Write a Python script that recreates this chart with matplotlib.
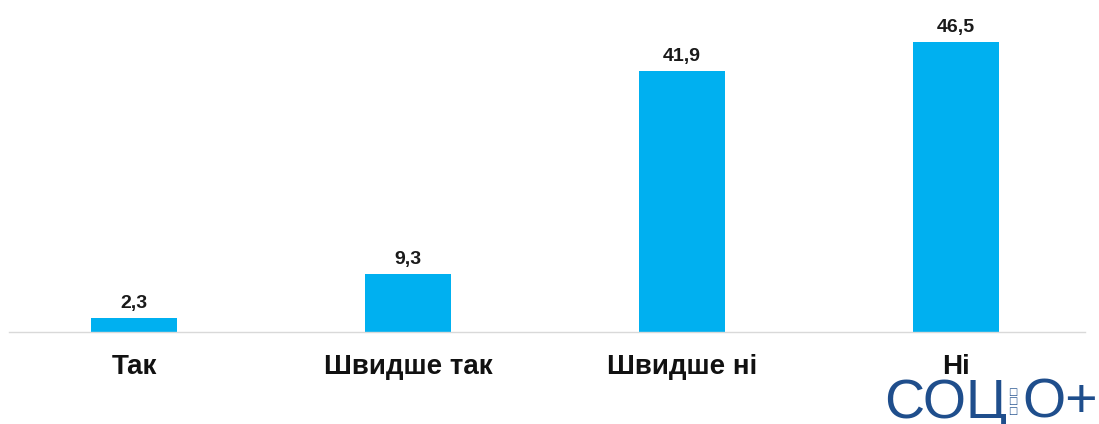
import matplotlib.pyplot as plt

categories = ["Так", "Швидше так", "Швидше ні", "Ні"]
values = [2.3, 9.3, 41.9, 46.5]
value_labels = ["2,3", "9,3", "41,9", "46,5"]

plt.rcParams['font.family'] = ['Liberation Sans', 'DejaVu Sans']

fig = plt.figure(figsize=(10.99, 4.24), dpi=100)
# axes placed so that category centres land at 134, 408, 682, 956 px
left_px, right_px = 9, 1085
ax = fig.add_axes([left_px / 1099, 92 / 424, (right_px - left_px) / 1099, (404 - 92) / 424])

x = range(len(categories))
ax.bar(x, values, width=86 / 274, color="#00B0F0")

for xi, v, lab in zip(x, values, value_labels):
    ax.text(xi, v + 0.9, lab, ha="center", va="bottom", fontsize=14, fontweight="bold", color="#1a1a1a")

ax.set_xlim((left_px - 134) / 274, (right_px - 134) / 274)
ax.set_ylim(0, 50)

for s in ["top", "right", "left"]:
    ax.spines[s].set_visible(False)
ax.spines["bottom"].set_color("#d9d9d9")
ax.spines["bottom"].set_linewidth(1)
ax.set_yticks([])
ax.set_xticks(list(x))
ax.set_xticklabels(categories, fontsize=20, fontweight="bold", color="#111111")
ax.tick_params(axis="x", length=0, pad=16)

# logo "СОЦІО+"
logo_color = "#1f4e8c"
fig.text(884 / 1099, 6 / 424, "СОЦ", fontsize=40, color=logo_color,
         ha="left", va="baseline")
fig.text(1008 / 1099, 8 / 424, "□\n□\n□", fontsize=7, color=logo_color,
         ha="left", va="bottom", linespacing=0.95, fontfamily="DejaVu Sans")
fig.text(1022 / 1099, 6 / 424, "О+", fontsize=40, color=logo_color,
         ha="left", va="baseline")

fig.savefig("out.png", dpi=100)
